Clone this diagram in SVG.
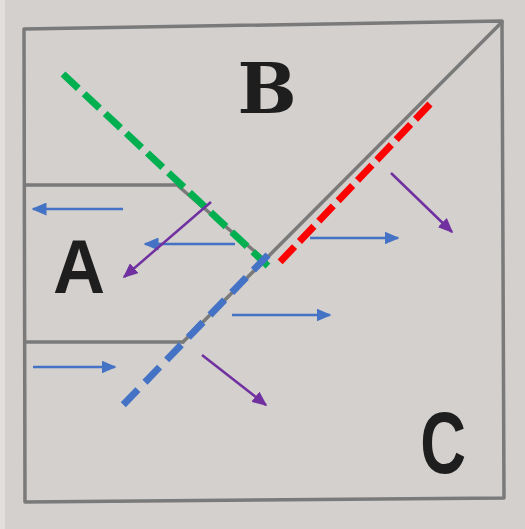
<svg xmlns="http://www.w3.org/2000/svg" width="525" height="529" viewBox="0 0 525 529">
<defs>
<style>
.frame{fill:none;stroke:#7a7a7a;stroke-width:3.5;stroke-linejoin:round;stroke-linecap:round}
.dash{fill:none;stroke-width:7}
.blue{stroke:#4472c4;stroke-width:2.5;fill:none}
.purple{stroke:#7030a0;stroke-width:2.5;fill:none}
.lbl{font-family:"Liberation Sans",Arial,sans-serif;fill:#1e1e1e;font-weight:bold}
</style>
<marker id="hb" viewBox="0 0 10 10" refX="9" refY="5" markerWidth="15" markerHeight="13" markerUnits="userSpaceOnUse" orient="auto" preserveAspectRatio="none"><path d="M0,0 L10,5 L0,10 z" fill="#4472c4"/></marker>
<marker id="hp" viewBox="0 0 10 10" refX="9" refY="5" markerWidth="15" markerHeight="13" markerUnits="userSpaceOnUse" orient="auto" preserveAspectRatio="none"><path d="M0,0 L10,5 L0,10 z" fill="#7030a0"/></marker>
</defs>
<rect width="525" height="529" fill="#d3d0ce"/>
<rect x="0" y="0" width="5" height="529" fill="#e2e0de"/>
<g id="frame">
<path class="frame" d="M24,29 L502,21 L504,498 L25,502 Z"/>
<path class="frame" d="M502,22 L183,342"/>
<path class="frame" d="M25,185 L177,185 L266,261"/>
<path class="frame" d="M25,342 L183,342"/>
</g>
<g id="label-B"><text class="lbl" x="267" y="113" style="font-family:'DejaVu Serif',serif" font-size="70" text-anchor="middle">B</text></g>
<g id="label-A"><text class="lbl" transform="translate(79,293) scale(0.95,1)" font-size="76" text-anchor="middle">A</text></g>
<g id="label-C"><text class="lbl" transform="translate(443,473) scale(0.72,1)" font-size="88" text-anchor="middle">C</text></g>
<g id="connectors">
<line class="dash" x1="63" y1="74" x2="268" y2="266" stroke="#00b050" stroke-dasharray="21 7.9"/>
<line class="dash" x1="430" y1="104" x2="280" y2="262" stroke="#ff0000" stroke-dasharray="21 7.1"/>
<line class="dash" x1="268" y1="255" x2="123" y2="405" stroke="#4472c4" stroke-dasharray="21 10.2"/>
<line class="blue" x1="123" y1="209" x2="33" y2="209" marker-end="url(#hb)"/>
<line class="blue" x1="235" y1="244" x2="145" y2="244" marker-end="url(#hb)"/>
<line class="blue" x1="310" y1="238" x2="398" y2="238" marker-end="url(#hb)"/>
<line class="blue" x1="232" y1="315" x2="330" y2="315" marker-end="url(#hb)"/>
<line class="blue" x1="33" y1="367" x2="115" y2="367" marker-end="url(#hb)"/>
<line class="purple" x1="211" y1="202" x2="124" y2="277" marker-end="url(#hp)"/>
<line class="purple" x1="391" y1="173" x2="452" y2="232" marker-end="url(#hp)"/>
<line class="purple" x1="202" y1="355" x2="266" y2="405" marker-end="url(#hp)"/>
</g>
</svg>
